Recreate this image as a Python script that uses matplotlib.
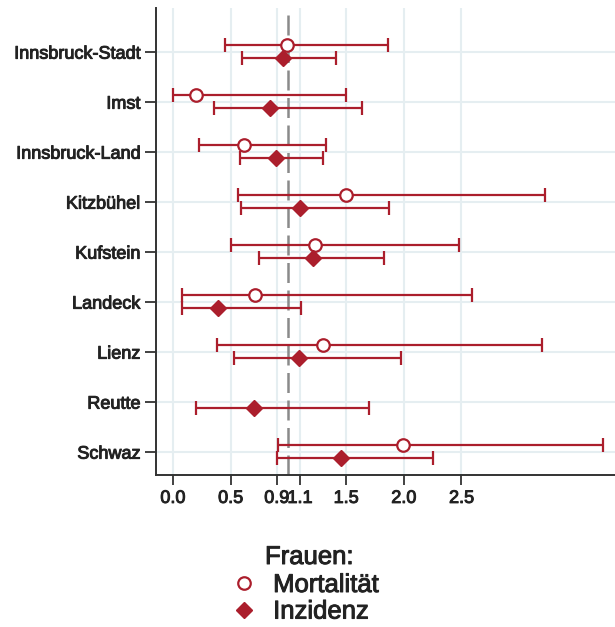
import matplotlib
matplotlib.use("Agg")
import matplotlib.pyplot as plt
import matplotlib.patheffects as pe
from matplotlib.lines import Line2D
import numpy as np

plt.rcParams["font.family"] = ["Liberation Sans", "DejaVu Sans"]

bezirke = ["Innsbruck-Stadt", "Imst", "Innsbruck-Land", "Kitzbühel", "Kufstein",
           "Landeck", "Lienz", "Reutte", "Schwaz"]

# Mortalität (Frauen): Schätzer, untere und obere Grenze
mort = [0.99, 0.20, 0.62, 1.50, 1.23, 0.71, 1.30, np.nan, 1.99]
mort_lo = [0.45, 0.00, 0.23, 0.56, 0.50, 0.08, 0.38, np.nan, 0.91]
mort_hi = [1.86, 1.50, 1.33, 3.22, 2.48, 2.59, 3.20, np.nan, 3.73]

# Inzidenz (Frauen)
inz = [0.95, 0.84, 0.89, 1.10, 1.21, 0.39, 1.09, 0.70, 1.46]
inz_lo = [0.60, 0.36, 0.58, 0.59, 0.75, 0.08, 0.53, 0.20, 0.90]
inz_hi = [1.41, 1.64, 1.30, 1.87, 1.83, 1.11, 1.98, 1.70, 2.25]

xticks = [0.0, 0.5, 0.9, 1.1, 1.5, 2.0, 2.5]
xticklabels = ["0.0", "0.5", "0.9", "1.1", "1.5", "2.0", "2.5"]

red = "#ab1e2c"
txt = "#222222"
thick = [pe.withStroke(linewidth=0.7, foreground=txt)]

fig = plt.figure(figsize=(6.15, 6.27), dpi=100)
ax = fig.add_axes([0.253, 0.243, 0.747, 0.744])

y = np.arange(len(bezirke))
mort = np.array(mort)
inz = np.array(inz)

ax.errorbar(mort, y - 0.14,
            xerr=[mort - np.array(mort_lo), np.array(mort_hi) - mort],
            fmt="o", color=red, mfc="white", mec=red, mew=1.6, ms=9,
            ecolor=red, elinewidth=1.6, capsize=4.8, capthick=1.6, zorder=3)
ax.errorbar(inz, y + 0.12,
            xerr=[inz - np.array(inz_lo), np.array(inz_hi) - inz],
            fmt="D", color=red, mec=red, ms=8,
            ecolor=red, elinewidth=1.6, capsize=4.8, capthick=1.6, zorder=3)

ax.axvline(1.0, color="#8a8a8a", lw=1.8, dashes=(8, 3), zorder=2)

ax.set_xlim(-0.15, 3.83)
ax.set_ylim(8.45, -0.88)
ax.set_yticks(y)
ax.set_yticklabels(bezirke)
ax.set_xticks(xticks)
ax.set_xticklabels(xticklabels)

ax.grid(True, color="#e5eef1", lw=1.5, zorder=0)
ax.set_axisbelow(True)

for side in ["top", "right"]:
    ax.spines[side].set_visible(False)
for side in ["left", "bottom"]:
    ax.spines[side].set_color("#333333")
    ax.spines[side].set_linewidth(1.4)

ax.tick_params(axis="x", length=7, width=1.3, color="#333333", pad=4,
               labelsize=13, labelcolor=txt)
ax.tick_params(axis="y", length=8, width=1.3, color="#333333", pad=3,
               labelsize=13, labelcolor=txt)
for t in ax.get_xticklabels() + ax.get_yticklabels():
    t.set_path_effects(thick)

handles = [
    Line2D([], [], ls="none", marker="o", mfc="white", mec=red, mew=1.6, ms=9),
    Line2D([], [], ls="none", marker="D", color=red, ms=8),
]
title = fig.text(265 / 615, 1 - 557 / 627, "Frauen:", fontsize=18.5, color=txt,
                 va="center", ha="left")
title.set_path_effects(thick)
leg = fig.legend(handles, ["Mortalität", "Inzidenz"], loc="upper left",
                 bbox_to_anchor=(232 / 615, 1 - 573 / 627), frameon=False,
                 fontsize=18.5, handlelength=0.9, handletextpad=0.7,
                 labelspacing=0.1, borderpad=0, borderaxespad=0)
for t in leg.get_texts():
    t.set_color(txt)
    t.set_path_effects(thick)

fig.savefig("out.png", dpi=100)
